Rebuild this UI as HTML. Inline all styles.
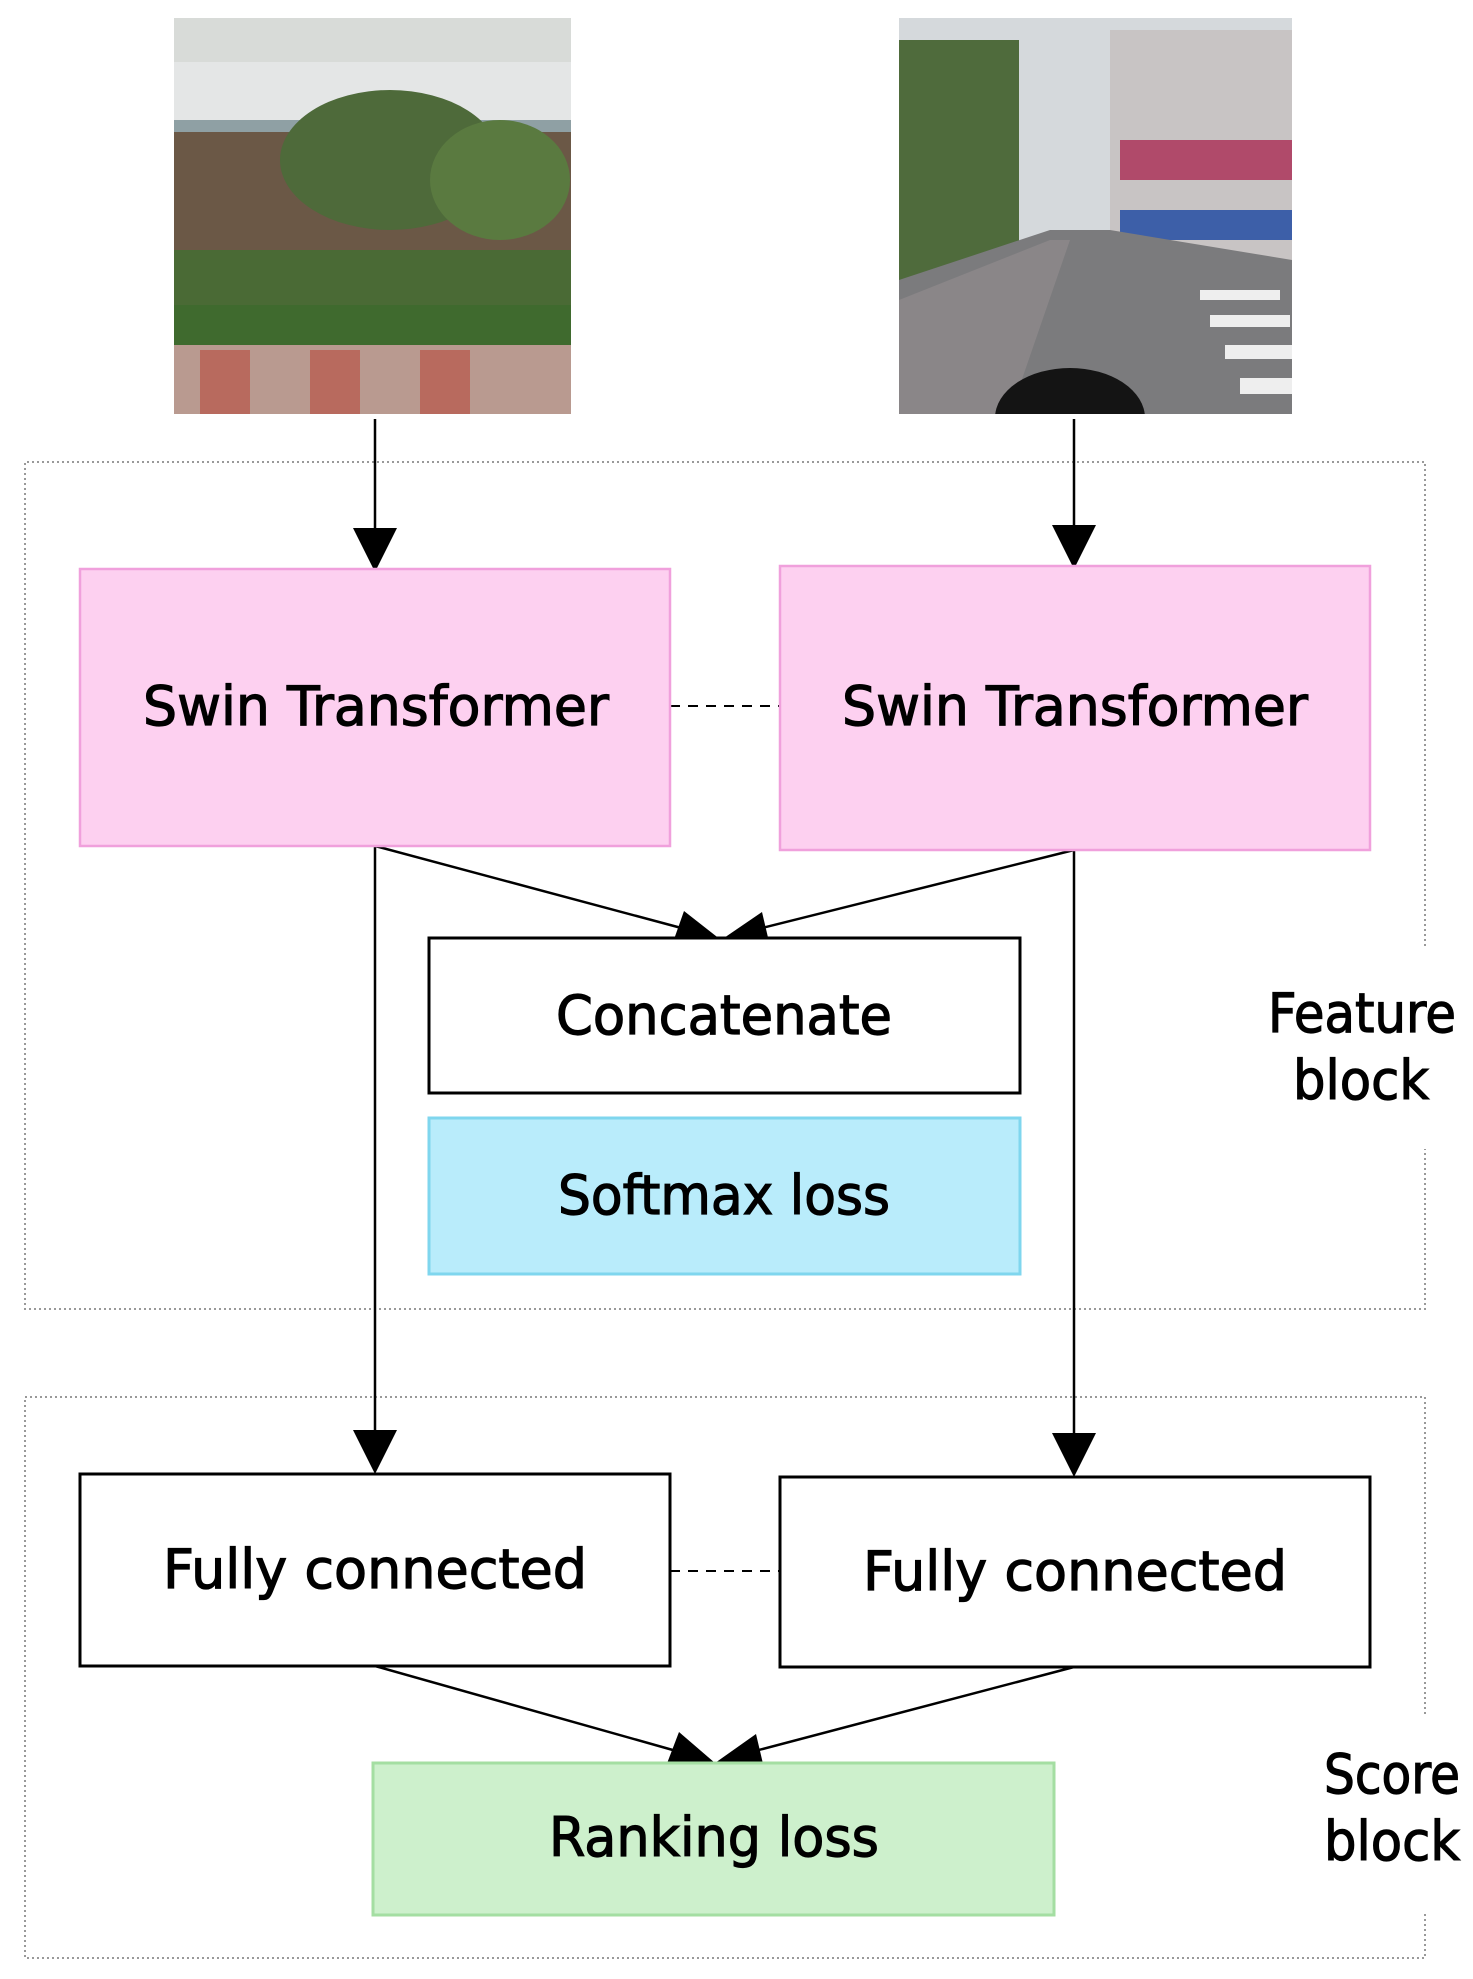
<!DOCTYPE html>
<html><head><meta charset="utf-8"><style>html,body{margin:0;padding:0;background:#fff}svg{display:block}</style></head>
<body>
<svg width="1473" height="1979" viewBox="0 0 1473 1979" xmlns="http://www.w3.org/2000/svg" font-family="'DejaVu Sans','Liberation Sans',sans-serif">
<defs>
<clipPath id="c2"><rect x="899" y="18" width="393" height="396"/></clipPath>
</defs>
<g>
<rect x="174" y="18" width="397" height="396" fill="#c9ccc9"/>
<rect x="174" y="18" width="397" height="50" fill="#d8dbd8"/>
<rect x="174" y="62" width="397" height="70" fill="#e4e6e6"/>
<rect x="174" y="120" width="397" height="12" fill="#8fa0a4"/>
<rect x="174" y="132" width="397" height="130" fill="#6b5846"/>
<ellipse cx="390" cy="160" rx="110" ry="70" fill="#4e6a3a"/>
<ellipse cx="500" cy="180" rx="70" ry="60" fill="#5a7a40"/>
<rect x="174" y="250" width="397" height="60" fill="#4a6a35"/>
<rect x="174" y="305" width="397" height="45" fill="#3f6a2e"/>
<rect x="174" y="345" width="397" height="69" fill="#b99a90"/>
<rect x="200" y="350" width="50" height="64" fill="#b86a5e"/>
<rect x="310" y="350" width="50" height="64" fill="#b86a5e"/>
<rect x="420" y="350" width="50" height="64" fill="#b86a5e"/>
</g>
<g clip-path="url(#c2)">
<rect x="899" y="18" width="393" height="396" fill="#d5d9dc"/>
<rect x="899" y="40" width="120" height="240" fill="#4f6b3c"/>
<rect x="1110" y="30" width="182" height="230" fill="#c8c4c4"/>
<rect x="1120" y="140" width="172" height="40" fill="#b04a6a"/>
<rect x="1120" y="210" width="172" height="30" fill="#3d5fa8"/>
<polygon points="899,414 899,280 1050,230 1110,230 1292,260 1292,414" fill="#7b7b7d"/>
<polygon points="899,300 1050,240 1070,240 1010,414 899,414" fill="#8a8688"/>
<rect x="1200" y="290" width="80" height="10" fill="#eee"/>
<rect x="1210" y="315" width="80" height="12" fill="#eee"/>
<rect x="1225" y="345" width="67" height="14" fill="#eee"/>
<rect x="1240" y="378" width="52" height="16" fill="#eee"/>
<ellipse cx="1070" cy="418" rx="75" ry="50" fill="#141414"/>
</g>
<g fill="none" stroke="#999" stroke-width="2" stroke-dasharray="2,3">
<path d="M1425,946 V462 H25 V1309 H1425 V1149"/>
<path d="M1425,1714 V1397 H25 V1958 H1425 V1911"/>
</g>
<g stroke="#000" stroke-width="2.5" fill="none">
<line x1="375" y1="419" x2="375" y2="544"/>
<line x1="1074" y1="419" x2="1074" y2="541"/>
<line x1="375" y1="846" x2="375" y2="1449"/>
<line x1="1074" y1="850" x2="1074" y2="1452"/>
<line x1="375" y1="846" x2="700" y2="933"/>
<line x1="1074" y1="850" x2="742" y2="933"/>
<line x1="375" y1="1666" x2="694" y2="1756"/>
<line x1="1074" y1="1667" x2="736" y2="1756"/>
<line x1="670" y1="706" x2="780" y2="706" stroke-dasharray="10,8" stroke-width="2"/>
<line x1="670" y1="1571" x2="780" y2="1571" stroke-dasharray="10,8" stroke-width="2"/>
</g>
<g fill="#000">
<polygon points="353,528 397,528 375,572"/>
<polygon points="1052,525 1096,525 1074,569"/>
<polygon points="353,1430 397,1430 375,1474"/>
<polygon points="1052,1433 1096,1433 1074,1477"/>
<polygon points="721,940 672,945 684,911"/>
<polygon points="721,940 762,912 770,946"/>
<polygon points="715,1763 666,1766 679,1732"/>
<polygon points="715,1763 756,1734 764,1768"/>
</g>
<rect x="80" y="569" width="590" height="277" fill="#fdd0f0" stroke="#f0a0dc" stroke-width="2.5"/>
<rect x="780" y="566" width="590" height="284" fill="#fdd0f0" stroke="#f0a0dc" stroke-width="2.5"/>
<rect x="429" y="938" width="591" height="155" fill="#fff" stroke="#000" stroke-width="3"/>
<rect x="429" y="1118" width="591" height="156" fill="#b9ecfb" stroke="#7fd6ee" stroke-width="3"/>
<rect x="80" y="1474" width="590" height="192" fill="#fff" stroke="#000" stroke-width="3"/>
<rect x="780" y="1477" width="590" height="190" fill="#fff" stroke="#000" stroke-width="3"/>
<rect x="373" y="1763" width="681" height="152" fill="#cdf0cc" stroke="#a4dea2" stroke-width="3"/>
<g font-size="54" fill="#000" stroke="#000" stroke-width="1.2" text-anchor="middle">
<text x="376" y="725" textLength="466" lengthAdjust="spacingAndGlyphs">Swin Transformer</text>
<text x="1075" y="725" textLength="466" lengthAdjust="spacingAndGlyphs">Swin Transformer</text>
<text x="724" y="1034" textLength="336" lengthAdjust="spacingAndGlyphs">Concatenate</text>
<text x="724" y="1214" textLength="332" lengthAdjust="spacingAndGlyphs">Softmax loss</text>
<text x="375" y="1588" textLength="424" lengthAdjust="spacingAndGlyphs">Fully connected</text>
<text x="1075" y="1590" textLength="424" lengthAdjust="spacingAndGlyphs">Fully connected</text>
<text x="714" y="1856" textLength="330" lengthAdjust="spacingAndGlyphs">Ranking loss</text>
<text x="1362" y="1032" textLength="188" lengthAdjust="spacingAndGlyphs">Feature</text>
<text x="1361" y="1099" textLength="136" lengthAdjust="spacingAndGlyphs">block</text>
<text x="1392" y="1793" textLength="136" lengthAdjust="spacingAndGlyphs">Score</text>
<text x="1392" y="1860" textLength="136" lengthAdjust="spacingAndGlyphs">block</text>
</g>
</svg>
</body></html>
